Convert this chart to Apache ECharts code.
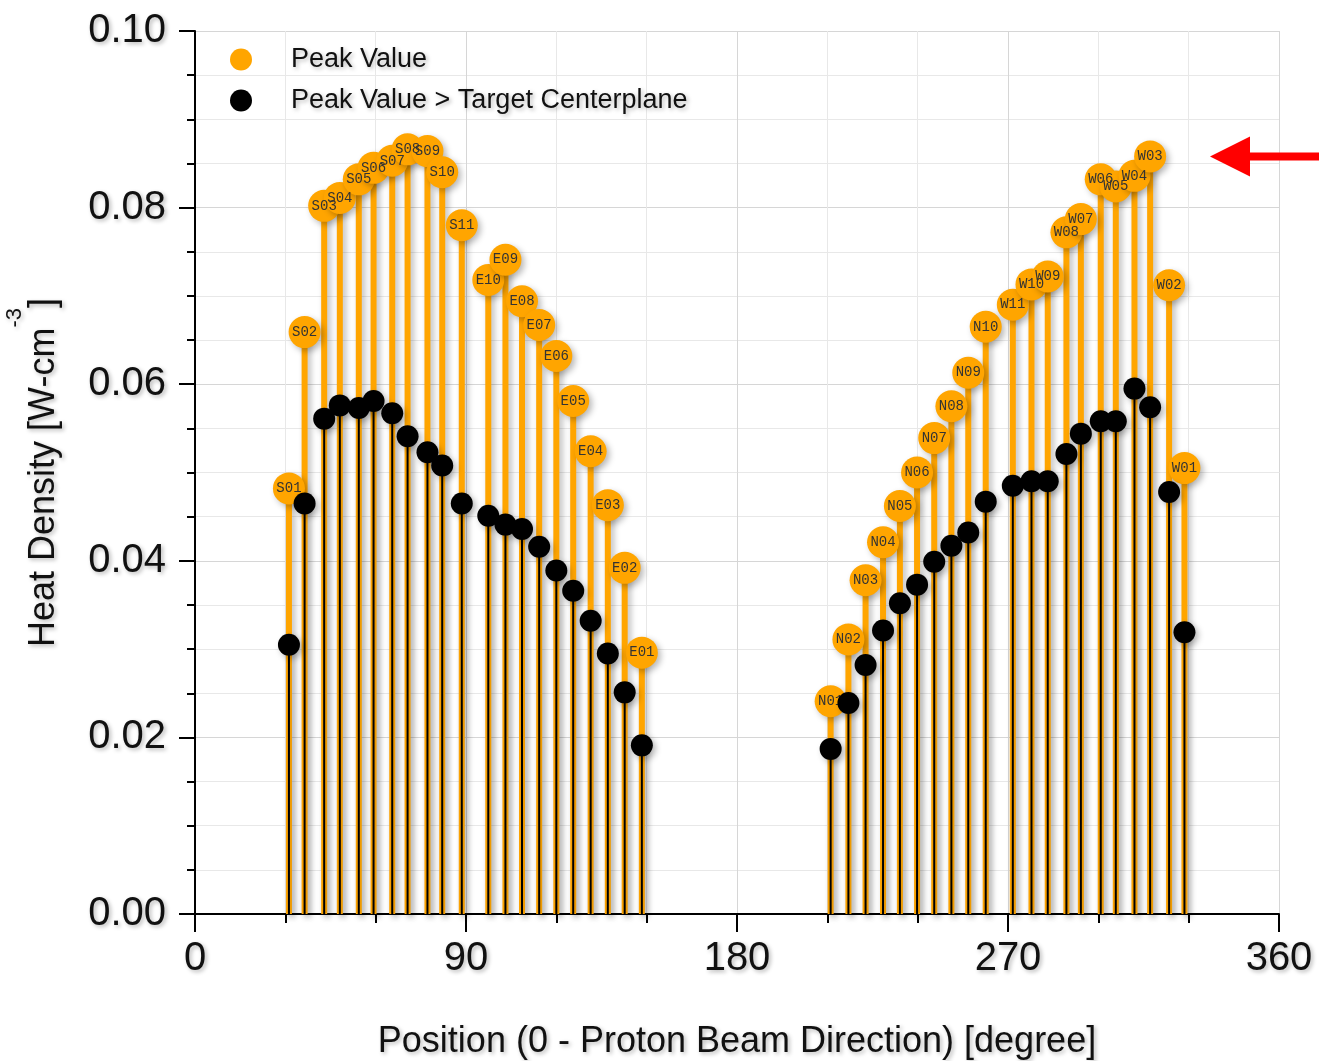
<!DOCTYPE html>
<html>
<head>
<meta charset="utf-8">
<script src="https://cdn.jsdelivr.net/npm/echarts@6/dist/echarts.min.js"></script>
<style>
  html, body { margin: 0; padding: 0; background: #ffffff; }
  #chart { width: 1319px; height: 1061px; }
</style>
</head>
<body>
<div id="chart"></div>
<script>
// Sensor identifiers around the target, in angular order
const sensorNames = [
  'S01','S02','S03','S04','S05','S06','S07','S08','S09','S10','S11',
  'E10','E09','E08','E07','E06','E05','E04','E03','E02','E01',
  'N01','N02','N03','N04','N05','N06','N07','N08','N09','N10',
  'W11','W10','W09','W08','W07','W06','W05','W04','W03','W02','W01'
];

// Angular position of each sensor [degree]
const positions = [
  31.2, 36.4, 42.9, 48.1, 54.4, 59.3, 65.5, 70.6, 77.2, 82.1, 88.6,
  97.4, 103.1, 108.6, 114.3, 120.0, 125.6, 131.4, 137.1, 142.7, 148.4,
  211.1, 217.0, 222.7, 228.5, 234.1, 239.8, 245.5, 251.2, 256.8, 262.6,
  271.6, 277.8, 283.2, 289.4, 294.2, 300.8, 305.8, 312.0, 317.2, 323.5, 328.6
];

// Peak heat density at each sensor [W/cm^3]
const peakValues = [
  0.0482, 0.0659, 0.0802, 0.0811, 0.0832, 0.0845, 0.0853, 0.0866, 0.0864, 0.0840, 0.0780,
  0.0718, 0.0741, 0.0694, 0.0667, 0.0632, 0.0581, 0.0524, 0.0463, 0.0392, 0.0296,
  0.0241, 0.0311, 0.0378, 0.0421, 0.0462, 0.0500, 0.0539, 0.0575, 0.0613, 0.0665,
  0.0690, 0.0713, 0.0722, 0.0772, 0.0787, 0.0832, 0.0824, 0.0836, 0.0858, 0.0712, 0.0505
];

// Peak heat density on the target centerplane [W/cm^3]
const centerValues = [
  0.0305, 0.0465, 0.0561, 0.0576, 0.0573, 0.0581, 0.0567, 0.0541, 0.0523, 0.0508, 0.0465,
  0.0451, 0.0441, 0.0436, 0.0416, 0.0389, 0.0366, 0.0332, 0.0295, 0.0251, 0.0191,
  0.0187, 0.0239, 0.0282, 0.0321, 0.0352, 0.0373, 0.0399, 0.0417, 0.0432, 0.0467,
  0.0485, 0.0490, 0.0490, 0.0521, 0.0544, 0.0558, 0.0558, 0.0595, 0.0574, 0.0478, 0.0319
];

const seriesNames = ['Peak Value', 'Peak Value > Target Centerplane'];
const highlightSensor = 'W03';

const ORANGE = '#FFA500';
const FONT = 'Liberation Sans';
const textShadow = {
  textShadowColor: 'rgba(0,0,0,0.28)',
  textShadowBlur: 4,
  textShadowOffsetX: 2,
  textShadowOffsetY: 2
};
const markShadow = {
  shadowColor: 'rgba(0,0,0,0.28)',
  shadowBlur: 6,
  shadowOffsetX: 3,
  shadowOffsetY: 3
};

const peakData = positions.map((p, i) => ({ name: sensorNames[i], value: [p, peakValues[i]] }));
const centerData = positions.map((p, i) => ({ name: sensorNames[i], value: [p, centerValues[i]] }));

// Vertical stem from the x axis up to the data value
function stem(color, width) {
  return function (params, api) {
    const x = api.value(0);
    const y = api.value(1);
    const base = api.coord([x, 0]);
    const top = api.coord([x, y]);
    return {
      type: 'line',
      shape: { x1: base[0], y1: base[1], x2: top[0], y2: top[1] },
      style: Object.assign({ stroke: color, lineWidth: width }, markShadow)
    };
  };
}

const chart = echarts.init(document.getElementById('chart'), null, { renderer: 'canvas' });

chart.setOption({
  animation: false,
  backgroundColor: '#ffffff',
  grid: { left: 195, right: 40, top: 31, bottom: 147, containLabel: false, outerBoundsMode: 'none' },
  legend: {
    orient: 'vertical',
    left: 225,
    top: 41,
    itemWidth: 22,
    itemHeight: 22,
    itemGap: 14,
    data: [
      { name: seriesNames[0], icon: 'circle' },
      { name: seriesNames[1], icon: 'circle' }
    ],
    textStyle: Object.assign({
      fontFamily: FONT, fontSize: 27, color: '#111', padding: [0, 0, 0, 34]
    }, textShadow)
  },
  xAxis: {
    type: 'value',
    min: 0, max: 360, interval: 90,
    name: 'Position (0 - Proton Beam Direction) [degree]',
    nameLocation: 'middle',
    nameGap: 110,
    nameTextStyle: Object.assign({ fontFamily: FONT, fontSize: 36, color: '#111' }, textShadow),
    axisLine: { show: true, onZero: false, lineStyle: { color: '#000', width: 2 } },
    axisTick: { show: true, length: 18, lineStyle: { color: '#000', width: 2 } },
    minorTick: { show: true, splitNumber: 3, length: 9, lineStyle: { color: '#000', width: 2 } },
    axisLabel: Object.assign({ fontFamily: FONT, fontSize: 40, color: '#111', margin: 25 }, textShadow),
    splitLine: { show: true, lineStyle: { color: '#d6d6d6', width: 1 } },
    minorSplitLine: { show: true, lineStyle: { color: '#e8e8e8', width: 1 } }
  },
  yAxis: {
    type: 'value',
    min: 0, max: 0.1, interval: 0.02,
    name: '{n|Heat Density [W-cm}{s|-3}{n|]}',
    nameLocation: 'middle',
    nameRotate: 90,
    nameGap: 133,
    nameTextStyle: Object.assign({
      fontFamily: FONT, fontSize: 36, color: '#111',
      rich: {
        n: { fontFamily: FONT, fontSize: 36, color: '#111', lineHeight: 58, verticalAlign: 'bottom' },
        s: { fontFamily: FONT, fontSize: 22, color: '#111', lineHeight: 22, verticalAlign: 'top' }
      }
    }, textShadow),
    axisLine: { show: true, onZero: false, lineStyle: { color: '#000', width: 2 } },
    axisTick: { show: true, length: 16, lineStyle: { color: '#000', width: 2 } },
    minorTick: { show: true, splitNumber: 4, length: 8, lineStyle: { color: '#000', width: 2 } },
    axisLabel: Object.assign({
      fontFamily: FONT, fontSize: 40, color: '#111', margin: 29,
      formatter: v => v.toFixed(2)
    }, textShadow),
    splitLine: { show: true, lineStyle: { color: '#d6d6d6', width: 1 } },
    minorSplitLine: { show: true, lineStyle: { color: '#e8e8e8', width: 1 } }
  },
  series: [
    {
      type: 'custom',
      name: 'peak-stem',
      renderItem: stem(ORANGE, 6),
      encode: { x: 0, y: 1 },
      data: peakData.map(d => d.value),
      z: 2
    },
    {
      type: 'custom',
      name: 'center-stem',
      renderItem: stem('#000000', 2),
      encode: { x: 0, y: 1 },
      data: centerData.map(d => d.value),
      z: 2
    },
    {
      type: 'scatter',
      name: seriesNames[0],
      symbol: 'circle',
      symbolSize: 32,
      itemStyle: Object.assign({ color: ORANGE, opacity: 1 }, markShadow),
      label: {
        show: true,
        position: 'inside',
        formatter: '{b}',
        fontFamily: 'Liberation Mono',
        fontSize: 14,
        color: '#333'
      },
      data: peakData,
      z: 3
    },
    {
      type: 'scatter',
      name: seriesNames[1],
      symbol: 'circle',
      symbolSize: 22,
      itemStyle: Object.assign({ color: '#000000', opacity: 1 }, markShadow),
      data: centerData,
      z: 4
    }
  ]
});

// Red arrow marking the level of the highest west-side peak
const hiIdx = sensorNames.indexOf(highlightSensor);
const arrowY = chart.convertToPixel({ yAxisIndex: 0 }, peakValues[hiIdx]);
chart.setOption({
  graphic: [
    {
      type: 'polygon',
      shape: { points: [[1210, arrowY], [1250, arrowY - 20], [1250, arrowY + 20]] },
      style: { fill: '#ff0000' },
      z: 10
    },
    {
      type: 'rect',
      shape: { x: 1248, y: arrowY - 4, width: 80, height: 8 },
      style: { fill: '#ff0000' },
      z: 10
    }
  ]
});
</script>
</body>
</html>
